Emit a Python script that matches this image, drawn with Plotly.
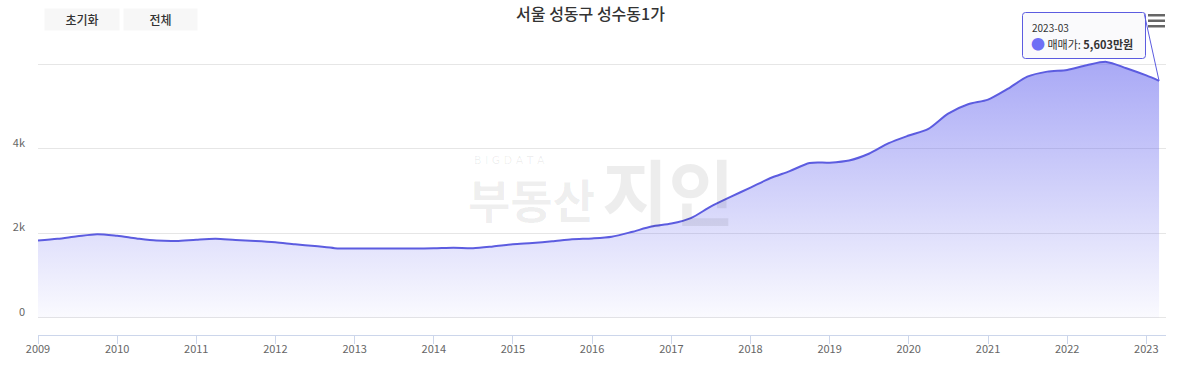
import plotly.graph_objects as go

# ---- data (매매가, 만원) ----
dates = [
    "2009-01-01", "2009-04-01", "2009-07-01", "2009-10-01",
    "2010-01-01", "2010-04-01", "2010-07-01", "2010-10-01",
    "2011-01-01", "2011-04-01", "2011-07-01", "2011-10-01",
    "2012-01-01", "2012-04-01", "2012-07-01", "2012-10-01",
    "2013-01-01", "2013-04-01", "2013-07-01", "2013-10-01",
    "2014-01-01", "2014-04-01", "2014-07-01", "2014-10-01",
    "2015-01-01", "2015-04-01", "2015-07-01", "2015-10-01",
    "2016-01-01", "2016-04-01", "2016-07-01", "2016-10-01",
    "2017-01-01", "2017-04-01", "2017-07-01", "2017-10-01",
    "2018-01-01", "2018-04-01", "2018-07-01", "2018-10-01",
    "2019-01-01", "2019-04-01", "2019-07-01", "2019-10-01",
    "2020-01-01", "2020-04-01", "2020-07-01", "2020-10-01",
    "2021-01-01", "2021-04-01", "2021-07-01", "2021-10-01",
    "2022-01-01", "2022-04-01", "2022-07-01", "2022-10-01",
    "2023-01-01", "2023-03-01",
]
prices = [
    1830, 1870, 1930, 1980,
    1940, 1880, 1830, 1820,
    1850, 1870, 1840, 1820,
    1790, 1740, 1700, 1650,
    1640, 1640, 1640, 1640,
    1645, 1660, 1650, 1690,
    1740, 1770, 1810, 1860,
    1880, 1920, 2030, 2160,
    2230, 2360, 2630, 2860,
    3080, 3300, 3470, 3660,
    3670, 3720, 3880, 4130,
    4310, 4470, 4830, 5050,
    5160, 5410, 5700, 5820,
    5860, 5970, 6050, 5900,
    5730, 5603,
]
ytick_vals = [0, 2000, 4000, 6000]
ytick_text = ["0", "2k", "4k", ""]
series_name = "매매가"
title_text = "서울 성동구 성수동1가"
tooltip_date = "2023-03"
tooltip_value = "5,603만원"

LINE = "#5c5ce0"
KR = "Noto Sans CJK KR"
WM = "rgba(0,0,0,0.07)"

# ---- layout geometry (pixels) ----
W, H = 1181, 371
L, R, T, B = 38, 15, 40, 36
PW, PH = W - L - R, H - T - B


def px(x):
    return (x - L) / PW


def py(y):
    return (H - B - y) / PH


fig = go.Figure()
fig.add_trace(go.Scatter(
    x=dates, y=prices, name=series_name,
    mode="lines", line=dict(color=LINE, width=2, shape="spline", smoothing=0.8),
    fill="tozeroy",
    fillgradient=dict(type="vertical", start=0, stop=6050,
                      colorscale=[[0, "rgba(98,98,238,0.03)"],
                                  [1, "rgba(98,98,238,0.55)"]]),
    hoverinfo="skip", showlegend=False,
))

fig.update_layout(
    width=W, height=H,
    margin=dict(l=L, r=R, t=T, b=B, pad=0, autoexpand=False),
    paper_bgcolor="white", plot_bgcolor="white",
    font=dict(family=KR, color="#666666", size=11),
    title=dict(text=title_text, x=0.5, xanchor="center", y=1 - 14 / H, yanchor="middle",
               font=dict(family=KR, size=16, color="#333333", weight=500)),
    xaxis=dict(
        type="date", range=["2009-01-01", "2023-04-02"],
        tick0="2009-01-01", dtick="M12", tickformat="%Y",
        showgrid=False, zeroline=False, automargin=False,
        showline=True, linecolor="#ccd6eb", linewidth=1,
        ticks="outside", ticklen=8, tickcolor="#ccd6eb", tickwidth=1,
        tickfont=dict(family=KR, size=11, color="#666666"),
        ticklabelstandoff=-4,
    ),
    yaxis=dict(
        range=[-402, 6567], automargin=False,
        tickvals=ytick_vals, ticktext=ytick_text,
        showgrid=True, gridcolor="#e6e6e6", gridwidth=1,
        zeroline=False, showline=False, ticks="",
        tickfont=dict(family=KR, size=11, color="#666666"),
        ticklabelstandoff=12, ticklabelshift=-6,
    ),
)

annotations = []
# buttons
for label, x0, x1 in [("초기화", 44, 118), ("전체", 123, 196)]:
    annotations.append(dict(
        text=label, xref="paper", yref="paper",
        x=px(x0), y=py(8), xanchor="left", yanchor="top",
        width=x1 - x0, height=21, bgcolor="#f7f7f7", borderpad=0,
        showarrow=False, font=dict(family=KR, size=12, color="#333333", weight=500),
    ))

# watermark (semi-transparent so the line stays visible)
annotations.append(dict(
    text="B I G D A T A", xref="paper", yref="paper", x=px(472), y=py(160),
    xanchor="left", yanchor="middle", showarrow=False,
    font=dict(family="DejaVu Sans", size=11, color=WM),
))
annotations.append(dict(
    text="<b>부동산</b>", xref="paper", yref="paper", x=px(466), y=py(198),
    xanchor="left", yanchor="middle", showarrow=False,
    font=dict(family=KR, size=46, color=WM),
))
annotations.append(dict(
    text="<b>지인</b>", xref="paper", yref="paper", x=px(600), y=py(188),
    xanchor="left", yanchor="middle", showarrow=False,
    font=dict(family=KR, size=72, color=WM),
))

# tooltip callout line
annotations.append(dict(
    text="", x=dates[-1], y=prices[-1], xref="x", yref="y",
    showarrow=True, arrowhead=0, arrowwidth=1, arrowcolor=LINE,
    ax=-15, ay=-68, standoff=0, startstandoff=0,
))
# tooltip texts
annotations.append(dict(
    text=tooltip_date, xref="paper", yref="paper", x=px(1030), y=py(28),
    xanchor="left", yanchor="middle", showarrow=False,
    font=dict(family=KR, size=10, color="#333333"),
))
annotations.append(dict(
    text="<span style='color:#6f6ff5;font-size:14px'>●</span> %s: <b>%s</b>"
         % (series_name, tooltip_value),
    xref="paper", yref="paper", x=px(1029), y=py(43),
    xanchor="left", yanchor="middle", showarrow=False,
    font=dict(family=KR, size=11, color="#333333"),
))
fig.update_layout(annotations=annotations)

shapes = []
# tooltip box (rounded rect)
bx0, bx1, by0, by1, rr = 1022.5, 1145.5, 12.5, 58.5, 3


def pt(x, y):
    return "%.6f,%.6f" % (px(x), py(y))


path = ("M" + pt(bx0 + rr, by0) + " L" + pt(bx1 - rr, by0) + " Q" + pt(bx1, by0) + " " + pt(bx1, by0 + rr)
        + " L" + pt(bx1, by1 - rr) + " Q" + pt(bx1, by1) + " " + pt(bx1 - rr, by1)
        + " L" + pt(bx0 + rr, by1) + " Q" + pt(bx0, by1) + " " + pt(bx0, by1 - rr)
        + " L" + pt(bx0, by0 + rr) + " Q" + pt(bx0, by0) + " " + pt(bx0 + rr, by0) + " Z")
shapes.append(dict(type="path", xref="paper", yref="paper", path=path,
                   fillcolor="rgba(250,250,252,0.95)", line=dict(color=LINE, width=1),
                   layer="above"))
# hamburger menu
for yy in (14, 19.5, 25):
    shapes.append(dict(type="rect", xref="paper", yref="paper",
                       x0=px(1148), x1=px(1165), y0=py(yy + 2.5), y1=py(yy),
                       fillcolor="#666666", line=dict(width=0)))
fig.update_layout(shapes=shapes)

fig.write_html("out.html", config={"displayModeBar": False},
               post_script="document.body.style.margin='0';document.body.style.overflow='hidden';")
